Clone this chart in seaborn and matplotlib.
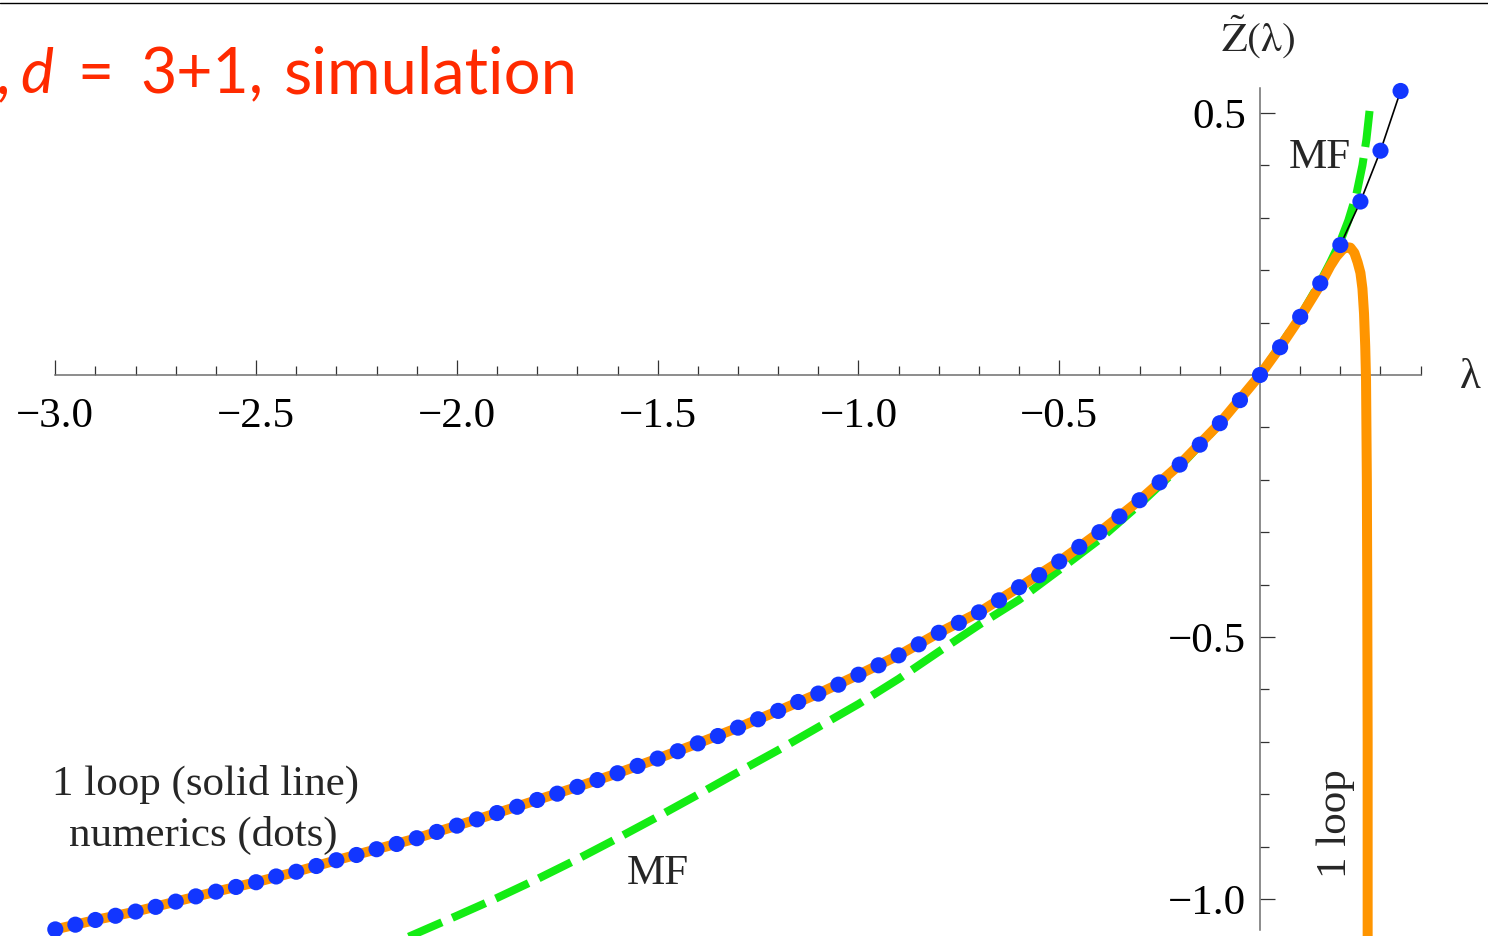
import numpy as np
import matplotlib
matplotlib.use("Agg")
import matplotlib.pyplot as plt
import seaborn as sns
import pandas as pd
from matplotlib.lines import Line2D

# numerics (dots), lambda grid of the simulation
dots_x = [-3.00, -2.95, -2.90, -2.85, -2.80, -2.75, -2.70, -2.65, -2.60, -2.55,
          -2.50, -2.45, -2.40, -2.35, -2.30, -2.25, -2.20, -2.15, -2.10, -2.05,
          -2.00, -1.95, -1.90, -1.85, -1.80, -1.75, -1.70, -1.65, -1.60, -1.55,
          -1.50, -1.45, -1.40, -1.35, -1.30, -1.25, -1.20, -1.15, -1.10, -1.05,
          -1.00, -0.95, -0.90, -0.85, -0.80, -0.75, -0.70, -0.65, -0.60, -0.55,
          -0.50, -0.45, -0.40, -0.35, -0.30, -0.25, -0.20, -0.15, -0.10, -0.05,
          0.00, 0.05, 0.10, 0.15, 0.20, 0.25, 0.30, 0.35]
dots_y = [-1.058, -1.049, -1.040, -1.032, -1.024, -1.015, -1.005, -0.995, -0.986, -0.977,
          -0.968, -0.957, -0.948, -0.937, -0.926, -0.916, -0.905, -0.895, -0.884, -0.872,
          -0.860, -0.848, -0.836, -0.824, -0.811, -0.799, -0.786, -0.773, -0.760, -0.746,
          -0.732, -0.718, -0.703, -0.689, -0.673, -0.657, -0.641, -0.624, -0.608, -0.591,
          -0.572, -0.554, -0.535, -0.514, -0.492, -0.473, -0.453, -0.430, -0.405, -0.382,
          -0.356, -0.328, -0.300, -0.270, -0.239, -0.205, -0.171, -0.133, -0.092, -0.048,
          0.000, 0.053, 0.111, 0.175, 0.248, 0.331, 0.428, 0.542]

# 1 loop (solid orange)
loop_x = [-3.0, -2.9, -2.8, -2.7, -2.6, -2.5, -2.4, -2.3, -2.2, -2.1, -2.0, -1.9, -1.8,
          -1.7, -1.6, -1.5, -1.4, -1.3, -1.2, -1.1, -1.0, -0.9, -0.8, -0.7, -0.6, -0.5,
          -0.4, -0.3, -0.2, -0.1, 0.0, 0.05, 0.1, 0.15, 0.175, 0.19, 0.205, 0.215, 0.225,
          0.235, 0.243, 0.25, 0.255, 0.259, 0.262, 0.264, 0.266, 0.267, 0.268, 0.268]
loop_y = [-1.058, -1.040, -1.024, -1.005, -0.986, -0.968, -0.948, -0.926, -0.905, -0.884,
          -0.860, -0.836, -0.811, -0.786, -0.760, -0.732, -0.703, -0.673, -0.641, -0.608,
          -0.572, -0.535, -0.492, -0.453, -0.405, -0.356, -0.300, -0.239, -0.171, -0.092,
          0.000, 0.053, 0.110, 0.172, 0.208, 0.226, 0.239, 0.244, 0.243, 0.233, 0.215,
          0.195, 0.165, 0.117, 0.054, -0.010, -0.200, -0.400, -0.700, -1.100]

# mean field (green dashed)
mf_x = [-2.12, -2.0, -1.9, -1.8, -1.7, -1.6, -1.5, -1.4, -1.3, -1.2, -1.1, -1.0, -0.9,
        -0.8, -0.7, -0.6, -0.5, -0.4, -0.3, -0.2, -0.1, 0.0, 0.1, 0.15, 0.175, 0.2,
        0.22, 0.24, 0.255, 0.265, 0.275]
mf_y = [-1.072, -1.032, -0.998, -0.962, -0.924, -0.884, -0.843, -0.801, -0.758, -0.716,
        -0.672, -0.628, -0.580, -0.528, -0.477, -0.429, -0.372, -0.314, -0.247, -0.175,
        -0.093, 0.000, 0.112, 0.178, 0.215, 0.255, 0.295, 0.345, 0.400, 0.450, 0.520]

x_major = [-3.0, -2.5, -2.0, -1.5, -1.0, -0.5]
y_major = [-1.0, -0.5, 0.5]

ORANGE = "#FF9500"
GREEN = "#14EC14"
BLUE = "#1236FF"
RED = "#FF2A00"

sns.set_theme(style="white")
plt.rcParams["font.family"] = ["Liberation Serif", "DejaVu Serif"]
plt.rcParams["mathtext.fontset"] = "stix"

W, H = 1488, 936
fig = plt.figure(figsize=(W / 100, H / 100), dpi=100)
ax = fig.add_axes([0, 0, 1, 1])

dots = pd.DataFrame({"x": dots_x, "y": dots_y})
loop = pd.DataFrame({"x": loop_x, "y": loop_y})
mf = pd.DataFrame({"x": mf_x, "y": mf_y})

sns.lineplot(data=mf, x="x", y="y", ax=ax, color=GREEN, lw=5.8, sort=False,
             estimator=None, linestyle=(0, (4.5, 1.4)), dash_capstyle="butt", zorder=2)
sns.lineplot(data=dots, x="x", y="y", ax=ax, color="black", lw=1.2, sort=False,
             estimator=None, zorder=2.5)
sns.lineplot(data=loop, x="x", y="y", ax=ax, color=ORANGE, lw=7.2, sort=False,
             estimator=None, solid_capstyle="butt", zorder=3)
sns.scatterplot(data=dots, x="x", y="y", ax=ax, color=BLUE, s=135, edgecolor="none",
                zorder=5)

ax.set_xlim(-3.1377, 0.5677)
ax.set_ylim(-1.0706, 0.7156)
ax.set_xlabel("")
ax.set_ylabel("")

for s in ["top", "right"]:
    ax.spines[s].set_visible(False)
ax.spines["left"].set_position(("data", 0))
ax.spines["bottom"].set_position(("data", 0))
ax.spines["bottom"].set_bounds(-3.0, 0.4)
ax.spines["left"].set_bounds(-1.06, 0.548)
for s in ["left", "bottom"]:
    ax.spines[s].set_color("#6e6e6e")
    ax.spines[s].set_linewidth(1.1)

ax.set_xticks(x_major)
ax.set_xticks([v for v in np.round(np.arange(-3.0, 0.41, 0.1), 1) if v not in x_major and v != 0.0],
              minor=True)
ax.set_yticks(y_major)
ax.set_yticks([v for v in np.round(np.arange(-1.0, 0.51, 0.1), 1) if v not in y_major and v != 0.0],
              minor=True)
ax.tick_params(axis="both", which="both", bottom=True, left=True, top=False, right=False)
ax.tick_params(axis="both", which="major", direction="in", length=11, width=0.9,
               color="#333333", labelsize=31, labelcolor="black")
ax.tick_params(axis="both", which="minor", direction="in", length=6.5, width=0.9,
               color="#333333")
ax.tick_params(axis="x", which="major", pad=16)
ax.tick_params(axis="y", which="major", pad=10)

ax.text(0.523, -0.006, "λ", fontsize=31, ha="center", va="center")
ax.text(-0.004, 0.645, r"$\mathrm{\tilde{Z}(\lambda)}$", fontsize=30, ha="center", va="center")
ax.text(0.149, 0.415, "MF", fontsize=31, ha="center", va="center")
ax.text(-1.499, -0.952, "MF", fontsize=31, ha="center", va="center")
ax.text(-2.627, -0.782, "1 loop (solid line)", fontsize=31, ha="center", va="center")
ax.text(-2.632, -0.878, "numerics (dots)", fontsize=31, ha="center", va="center")
ax.text(0.189, -0.857, "1 loop", fontsize=31, ha="center", va="center", rotation=90)

# red header, cut at the left edge as in the source
base = 1 - 93 / H
fig.text(3 / W, base, ",", fontsize=45, color=RED, family="Lato", ha="center", va="baseline")
fig.text(37 / W, base, "d", fontsize=45, color=RED, family="Lato", style="italic",
         ha="center", va="baseline")
fig.text(96 / W, base, "=", fontsize=45, color=RED, family="Lato", ha="center", va="baseline")
fig.text(140 / W, base, "3+1,", fontsize=45, color=RED, family="Lato", ha="left", va="baseline")
fig.text(284 / W, base, "simulation", fontsize=47, color=RED, family="Lato", ha="left",
         va="baseline")

fig.add_artist(Line2D([0, 1], [1 - 2.5 / H, 1 - 2.5 / H], color="black", lw=1.0))

fig.savefig("out.png", dpi=100)
